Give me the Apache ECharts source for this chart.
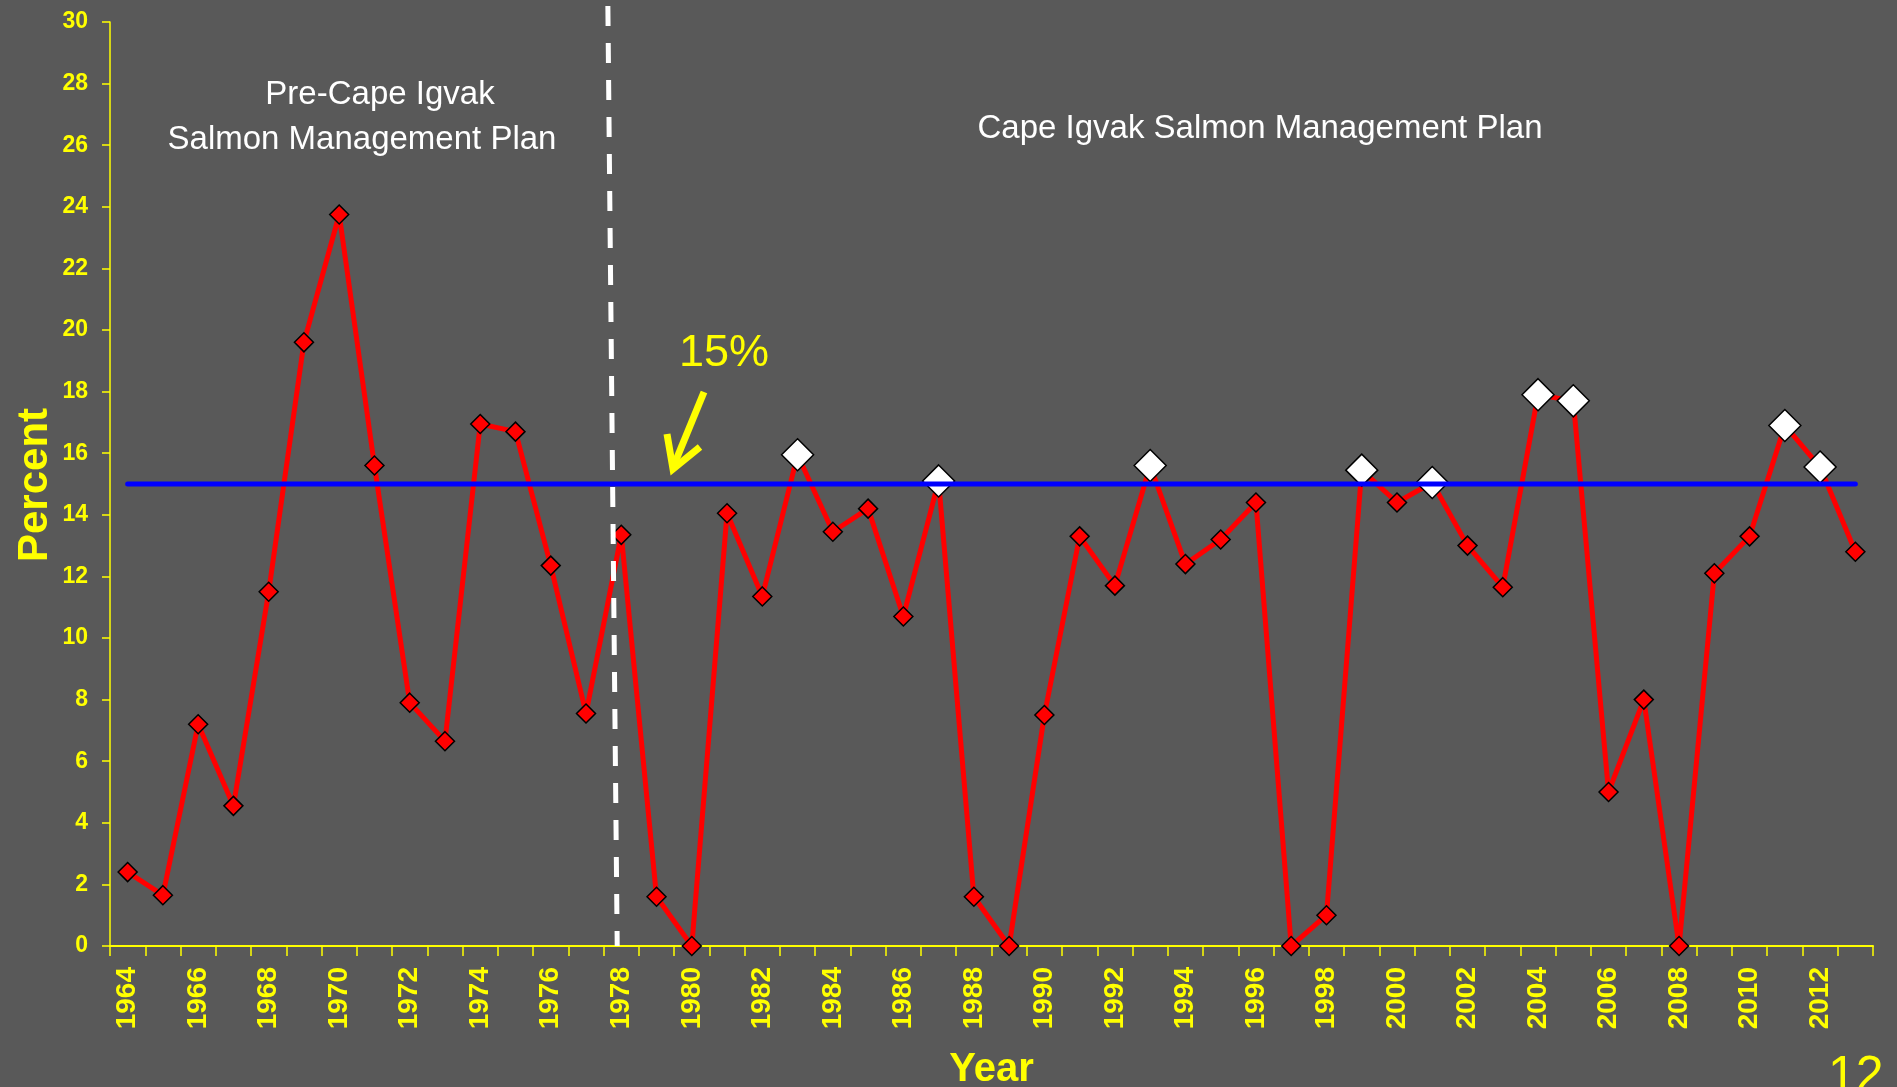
<!DOCTYPE html>
<html>
<head>
<meta charset="utf-8">
<title>Cape Igvak - Percent</title>
<script src="https://cdn.jsdelivr.net/npm/echarts@6/dist/echarts.min.js"></script>
<style>
  html, body { margin: 0; padding: 0; background: #595959; }
  #chart { width: 1897px; height: 1087px; }
</style>
</head>
<body>
<div id="chart"></div>
<script>
// years on the category axis
const years = [
  "1964", "1965", "1966", "1967", "1968", "1969", "1970", "1971", "1972", "1973",
  "1974", "1975", "1976", "1977", "1978", "1979", "1980", "1981", "1982", "1983",
  "1984", "1985", "1986", "1987", "1988", "1989", "1990", "1991", "1992", "1993",
  "1994", "1995", "1996", "1997", "1998", "1999", "2000", "2001", "2002", "2003",
  "2004", "2005", "2006", "2007", "2008", "2009", "2010", "2011", "2012", "2013"
];
// percent per year
const percent = [
  2.4, 1.65, 7.2, 4.55, 11.5, 19.6, 23.75, 15.6, 7.9, 6.65,
  16.95, 16.7, 12.35, 7.55, 13.35, 1.6, 0, 14.05, 11.35, 15.95,
  13.45, 14.2, 10.7, 15.1, 1.6, 0, 7.5, 13.3, 11.7, 15.6,
  12.4, 13.2, 14.4, 0, 1.0, 15.45, 14.4, 15.05, 13.0, 11.65,
  17.9, 17.7, 5.0, 8.0, 0, 12.1, 13.3, 16.9, 15.55, 12.8
];
// years drawn with a white marker (over 15% under the plan)
const aboveGoalYears = ["1983", "1987", "1993", "1999", "2001", "2004", "2005", "2011", "2012"];
const GOAL = 15;
// dashed boundary between the two periods, [year, percent]
const planStart = [[1977.62, 30.52], [1977.885, 0]];

const yellow = "#FFFF00";
const font = "Liberation Sans";

const pointData = percent.map((v, i) => {
  if (aboveGoalYears.indexOf(years[i]) >= 0) {
    return { value: v, symbolSize: 32, itemStyle: { color: "#FFFFFF" } };
  }
  return v;
});

const goalLine = [[+years[0], GOAL], [+years[years.length - 1], GOAL]];

let chart = echarts.init(document.getElementById("chart"));
let option = {
  backgroundColor: "#595959",
  animation: false,
  grid: { left: 110, right: 24, top: 22, bottom: 141, containLabel: false, outerBoundsMode: "none" },
  xAxis: [
    {
      type: "category",
      data: years,
      boundaryGap: true,
      name: "Year",
      nameLocation: "middle",
      nameGap: 104,
      nameMoveOverlap: false,
      nameTextStyle: { color: yellow, fontSize: 40, fontWeight: "bold", fontFamily: font },
      axisLine: { lineStyle: { color: yellow, width: 2 } },
      axisTick: { show: true, interval: 0, length: 10, lineStyle: { color: yellow, width: 1.5 } },
      axisLabel: {
        interval: 1,
        rotate: 90,
        margin: 21,
        color: yellow,
        fontSize: 28,
        fontWeight: "bold",
        fontFamily: font,
      },
      splitLine: { show: false },
    },
    {
      // hidden value axis, lined up with the category bands
      type: "value",
      min: 1963.5,
      max: 2013.5,
      show: false,
    },
  ],
  yAxis: {
    type: "value",
    min: 0,
    max: 30,
    interval: 2,
    axisLine: { show: true, lineStyle: { color: yellow, width: 1.5 } },
    axisTick: { show: true, length: 8, lineStyle: { color: yellow, width: 1.5 } },
    axisLabel: { margin: 22, color: yellow, fontSize: 23, fontWeight: "bold", fontFamily: font },
    splitLine: { show: false },
  },
  series: [
    {
      name: "Percent",
      type: "line",
      data: pointData,
      z: 2,
      symbol: "diamond",
      symbolSize: 19,
      showSymbol: true,
      showAllSymbol: true,
      lineStyle: { color: "#FF0000", width: 5 },
      itemStyle: { color: "#FF0000", borderColor: "#000000", borderWidth: 1.5 },
    },
    {
      name: "Goal",
      type: "line",
      xAxisIndex: 1,
      data: goalLine,
      z: 3,
      symbol: "none",
      lineStyle: { color: "#0000FF", width: 5, cap: "round" },
    },
    {
      name: "Plan",
      type: "line",
      xAxisIndex: 1,
      data: planStart,
      z: 4,
      clip: false,
      symbol: "none",
      lineStyle: { color: "#FFFFFF", width: 5, type: [20, 17] },
    },
  ],
  graphic: [
    {
      // y axis title
      type: "text",
      z: 10,
      x: 35,
      y: 485,
      rotation: Math.PI / 2,
      style: { text: "Percent", align: "center", verticalAlign: "middle",
        fill: yellow, fontSize: 42, fontWeight: "bold", fontFamily: font },
    },
    {
      type: "text",
      z: 10,
      style: { text: "Pre-Cape Igvak", x: 380, y: 95, align: "center", verticalAlign: "middle",
        fill: "#FFFFFF", fontSize: 33, fontFamily: font },
    },
    {
      type: "text",
      z: 10,
      style: { text: "Salmon Management Plan", x: 362, y: 140, align: "center", verticalAlign: "middle",
        fill: "#FFFFFF", fontSize: 33, fontFamily: font },
    },
    {
      type: "text",
      z: 10,
      style: { text: "Cape Igvak Salmon Management Plan", x: 1260, y: 129, align: "center", verticalAlign: "middle",
        fill: "#FFFFFF", fontSize: 33, fontFamily: font },
    },
    {
      type: "text",
      z: 10,
      style: { text: "15%", x: 679, y: 354, align: "left", verticalAlign: "middle",
        fill: yellow, fontSize: 45, fontFamily: font },
    },
    {
      type: "line",
      z: 10,
      shape: { x1: 704, y1: 392, x2: 674, y2: 465 },
      style: { stroke: yellow, lineWidth: 7 },
    },
    {
      type: "polyline",
      z: 10,
      shape: { points: [[667, 434], [673, 469], [700, 447]] },
      style: { stroke: yellow, lineWidth: 7, lineJoin: "miter", fill: null },
    },
    {
      type: "text",
      z: 10,
      style: { text: "12", x: 1828, y: 1077, align: "left", verticalAlign: "middle",
        fill: yellow, fontSize: 50, fontFamily: font },
    },
  ],
};
chart.setOption(option);
</script>
</body>
</html>
